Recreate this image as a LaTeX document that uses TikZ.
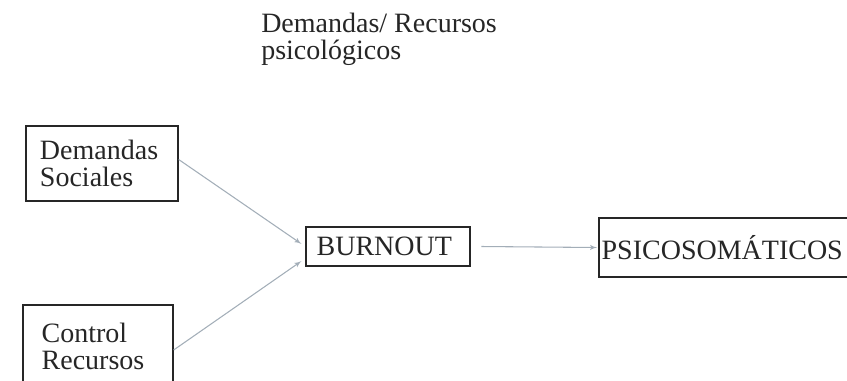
\documentclass[tikz,border=0pt]{standalone}
\usepackage{fontspec}
\setmainfont{Liberation Serif}
\usetikzlibrary{arrows, positioning}
\definecolor{flecha}{HTML}{A3AEB8}

\begin{document}
\begin{tikzpicture}[x=0.75pt, y=-0.75pt, >=latex',
    caja/.style={rectangle, draw=black!85, line width=1pt, align=left,
                 font=\fontsize{21pt}{20.25pt}\selectfont, text=black!85},
    flechita/.style={->, draw=flecha, line width=0.8pt}]
    \path[use as bounding box, clip] (0,0) rectangle (847,380);

    \node [anchor=north west, inner sep=0, align=left, text=black!85,
           font=\fontsize{21pt}{20.25pt}\selectfont] (titulo) at (261,13) {Demandas/ Recursos\\psicológicos};

    \node [caja, minimum width=114pt, minimum height=56.25pt, inner xsep=10.5pt, text width=93pt] (demandas) at (102,163.5) {Demandas\\Sociales};
    \node [caja, minimum width=112.5pt, minimum height=61.5pt, inner xsep=14pt, text width=84.5pt] (control) at (98,346) {Control\\Recursos};
    \node [caja, minimum width=123pt, minimum height=29.25pt, inner xsep=8pt, text width=107pt] (burnout) at (388,246.5) {BURNOUT};
    \node [caja, minimum width=210.75pt, minimum height=44.25pt, inner xsep=2pt, text width=206.75pt] (psico) at (739.5,247.5) {PSICOSOMÁTICOS};

    \draw[flechita] ([yshift=3pt]demandas.east) -- ([yshift=2pt, xshift=-3pt]burnout.west);
    \draw[flechita] ([yshift=-3pt]control.east) -- ([yshift=-11pt, xshift=-3pt]burnout.west);
    \draw[flechita] ([xshift=8pt]burnout.east) -- ([xshift=-1pt]psico.west);
\end{tikzpicture}
\end{document}
